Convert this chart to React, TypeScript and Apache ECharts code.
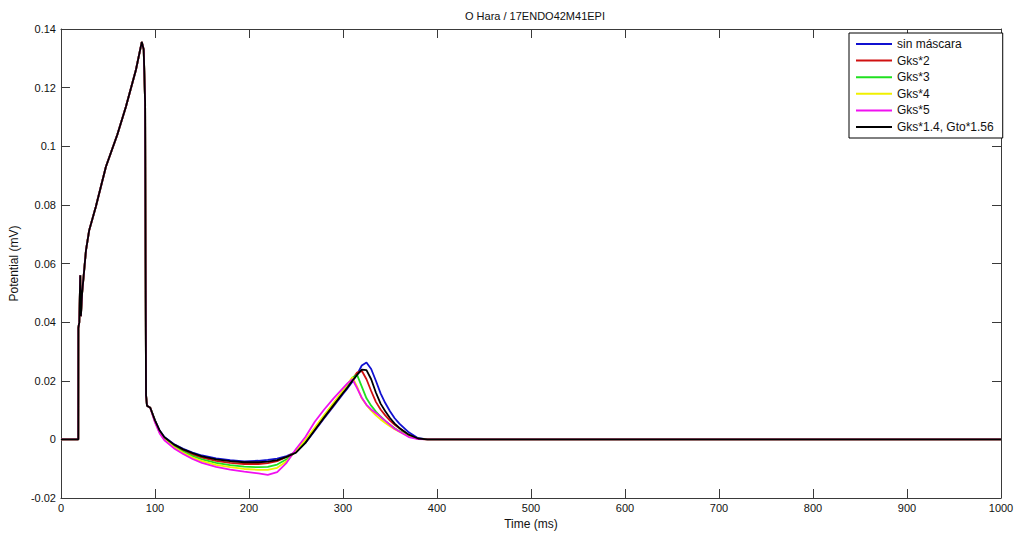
import React, { useEffect, useRef } from "react";
import * as echarts from "echarts";

const seriesNames = ["sin máscara", "Gks*2", "Gks*3", "Gks*4", "Gks*5", "Gks*1.4, Gto*1.56"];
const seriesColors = ["#1010d0", "#d01010", "#20e020", "#f0f000", "#f010f0", "#000000"];

// shared upstroke (all traces overlap here)
const tEarly = [0, 18.4, 18.5, 19.5, 20.5, 21.2, 22.5, 26.6, 30, 37, 47.8, 60, 69, 79.7, 86, 88, 89.5, 90, 90.5, 91.5];
const vEarly = [0, 0, 0.038, 0.04, 0.056, 0.042, 0.05, 0.0645, 0.0713, 0.0793, 0.093, 0.104, 0.1134, 0.126, 0.1356, 0.133, 0.115, 0.06, 0.015, 0.0115];

// repolarisation part, per trace
const tLate = [95, 100, 105, 110, 120, 130, 140, 150, 165, 180, 195, 210, 220, 230, 240, 250, 260, 270, 280, 290, 300, 305, 310, 315, 320, 325, 330, 335, 340, 345, 350, 355, 360, 370, 380, 390, 1000];
const vBlue = [0.0108, 0.0065, 0.003, 0.0008, -0.0016, -0.0032, -0.0045, -0.0055, -0.0065, -0.0071, -0.0075, -0.0073, -0.007, -0.0066, -0.0057, -0.0043, -0.0012, 0.003, 0.0072, 0.0113, 0.0155, 0.0175, 0.0197, 0.0222, 0.0252, 0.0262, 0.024, 0.02, 0.0157, 0.0124, 0.0096, 0.0072, 0.0054, 0.0024, 0.0004, 0, 0];
const vRed = [0.0108, 0.0063, 0.0027, 0.0004, -0.0021, -0.0038, -0.0052, -0.0062, -0.0073, -0.008, -0.0084, -0.0084, -0.0081, -0.0074, -0.006, -0.0042, -0.0008, 0.0034, 0.0076, 0.0117, 0.016, 0.018, 0.0205, 0.0228, 0.0234, 0.0205, 0.0165, 0.0128, 0.0102, 0.0082, 0.0064, 0.005, 0.0038, 0.0015, 0.0002, 0, 0];
const vGreen = [0.0108, 0.0062, 0.0025, 0.0002, -0.0024, -0.0042, -0.0057, -0.0068, -0.008, -0.0088, -0.0093, -0.0095, -0.0094, -0.0086, -0.0068, -0.004, -0.0005, 0.0037, 0.008, 0.0121, 0.0163, 0.0185, 0.021, 0.022, 0.018, 0.014, 0.0115, 0.0095, 0.0078, 0.0063, 0.005, 0.0038, 0.0028, 0.0012, 0.0002, 0, 0];
const vYellow = [0.0108, 0.006, 0.0023, 0, -0.0027, -0.0046, -0.0062, -0.0074, -0.0087, -0.0095, -0.0101, -0.0104, -0.0104, -0.0097, -0.0075, -0.0038, -0.0002, 0.004, 0.0083, 0.0125, 0.0167, 0.019, 0.0212, 0.018, 0.014, 0.0117, 0.0098, 0.0082, 0.0068, 0.0056, 0.0045, 0.0035, 0.0026, 0.0011, 0.0002, 0, 0];
const vMagenta = [0.0108, 0.0058, 0.002, -0.0003, -0.003, -0.005, -0.0067, -0.008, -0.0094, -0.0103, -0.011, -0.0116, -0.0121, -0.0112, -0.008, -0.0033, 0.0008, 0.006, 0.0102, 0.014, 0.0175, 0.0192, 0.0205, 0.0175, 0.0142, 0.0118, 0.0102, 0.009, 0.0077, 0.0063, 0.005, 0.0036, 0.0027, 0.0008, 0.0001, 0, 0];
const vBlack = [0.0108, 0.0065, 0.003, 0.0007, -0.0017, -0.0034, -0.0047, -0.0058, -0.0068, -0.0074, -0.0078, -0.0078, -0.0076, -0.0071, -0.006, -0.0045, -0.0012, 0.0032, 0.0075, 0.0117, 0.0158, 0.0178, 0.02, 0.022, 0.0238, 0.0236, 0.0205, 0.016, 0.0122, 0.0096, 0.0073, 0.0054, 0.0039, 0.0016, 0.0003, 0, 0];

const lateValues = [vBlue, vRed, vGreen, vYellow, vMagenta, vBlack];

const xTicks = { min: 0, max: 1000, interval: 100 };
const yTicks = { min: -0.02, max: 0.14, interval: 0.02 };

const FONT = "Liberation Sans, Arial, sans-serif";

export default function App() {
  const ref = useRef<HTMLDivElement>(null);
  useEffect(() => {
    if (!ref.current) return;
    const chart = echarts.init(ref.current, null, { renderer: "svg" });
    const makeData = (late: number[]) => {
      const d: number[][] = [];
      tEarly.forEach((t, i) => d.push([t, vEarly[i]]));
      tLate.forEach((t, i) => d.push([t, late[i]]));
      return d;
    };
    const axisLine = { show: true, onZero: false, lineStyle: { color: "#3a3a3a", width: 1 } };
    const tick = { show: true, inside: true, length: 9, lineStyle: { color: "#3a3a3a" } };
    const fmtY = (v: number) => String(parseFloat(v.toFixed(2)));
    const fmtX = (v: number) => String(Math.round(v));
    chart.setOption({
      animation: false,
      backgroundColor: "#ffffff",
      title: {
        text: "O Hara / 17ENDO42M41EPI",
        left: 530,
        textAlign: "center",
        top: 5,
        textStyle: { fontFamily: FONT, fontSize: 11, fontWeight: "normal", color: "#111" },
      },
      legend: {
        orient: "vertical",
        left: 849,
        top: 33,
        padding: [4, 9, 4, 7],
        itemWidth: 36,
        itemHeight: 2,
        itemGap: 2.6,
        icon: "rect",
        backgroundColor: "#ffffff",
        borderColor: "#000",
        borderWidth: 1,
        borderRadius: 0,
        textStyle: { fontFamily: FONT, fontSize: 12, color: "#111", lineHeight: 14 },
        data: seriesNames,
      },
      grid: { left: 60, right: 19, top: 29, bottom: 41, containLabel: false },
      xAxis: [
        {
          type: "value",
          ...xTicks,
          position: "bottom",
          name: "Time (ms)",
          nameLocation: "middle",
          nameGap: 19,
          nameTextStyle: { fontFamily: FONT, fontSize: 12, color: "#111" },
          axisLine,
          axisTick: tick,
          splitLine: { show: false },
          axisLabel: { fontFamily: FONT, fontSize: 11, color: "#111", margin: 4, formatter: fmtX },
        },
        {
          type: "value",
          ...xTicks,
          position: "top",
          axisLine,
          axisTick: tick,
          splitLine: { show: false },
          axisLabel: { show: false },
        },
      ],
      yAxis: [
        {
          type: "value",
          ...yTicks,
          position: "left",
          name: "Potential (mV)",
          nameLocation: "middle",
          nameGap: 34,
          nameTextStyle: { fontFamily: FONT, fontSize: 12, color: "#111" },
          axisLine,
          axisTick: tick,
          splitLine: { show: false },
          axisLabel: { fontFamily: FONT, fontSize: 11, color: "#111", margin: 5, formatter: fmtY },
        },
        {
          type: "value",
          ...yTicks,
          position: "right",
          axisLine,
          axisTick: tick,
          splitLine: { show: false },
          axisLabel: { show: false },
        },
      ],
      series: seriesNames.map((name, i) => ({
        name,
        type: "line",
        xAxisIndex: 0,
        yAxisIndex: 0,
        data: makeData(lateValues[i]),
        showSymbol: false,
        symbol: "none",
        color: seriesColors[i],
        lineStyle: { width: 1.8, color: seriesColors[i] },
        z: 2 + i,
      })),
    });
    return () => chart.dispose();
  }, []);
  return (
    <div
      ref={ref}
      style={{ position: "fixed", left: 0, top: 0, width: 1020, height: 539, background: "#fff" }}
    />
  );
}
